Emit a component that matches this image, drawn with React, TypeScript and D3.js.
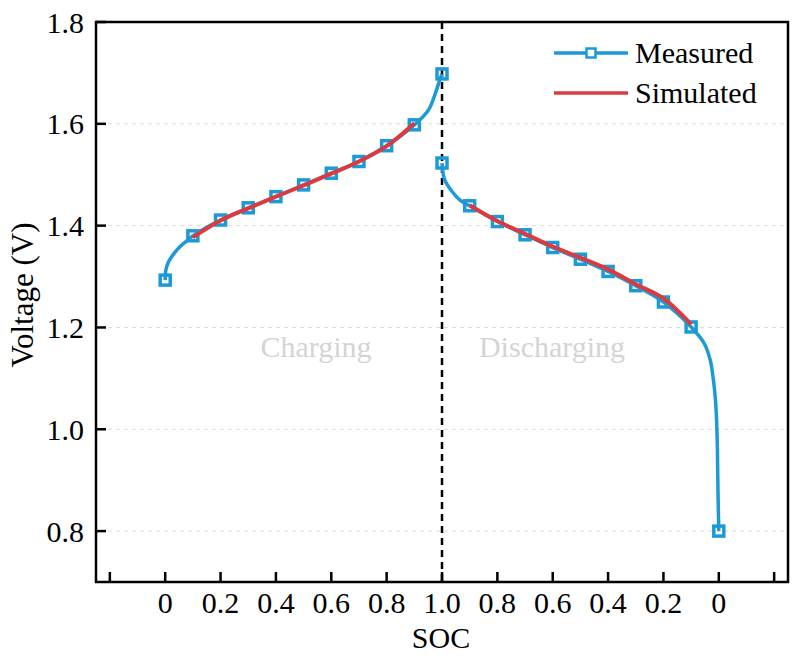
import React from 'react';
import * as d3 from 'd3';

// Measured points (markers) at SOC = 0, 0.1, ..., 1.0
const markerSoc = [0, 0.1, 0.2, 0.3, 0.4, 0.5, 0.6, 0.7, 0.8, 0.9, 1.0];
const chargeMeasured = [1.293, 1.380, 1.411, 1.435, 1.457, 1.480, 1.503, 1.526, 1.557, 1.598, 1.698];
const dischargeMeasured = [0.800, 1.201, 1.250, 1.282, 1.310, 1.334, 1.357, 1.382, 1.408, 1.439, 1.523];

// extra points traced on the measured curve between markers
const chargeBendSoc = [0.0025, 0.012, 0.03, 0.054, 0.078, 0.95, 0.976, 0.993];
const chargeBendV = [1.313, 1.329, 1.344, 1.359, 1.370, 1.626, 1.660, 1.688];
const dischargeBendSoc = [0.003, 0.005, 0.008, 0.013, 0.021, 0.031, 0.053, 0.935, 0.962, 0.99];
const dischargeBendV = [0.880, 0.959, 1.018, 1.064, 1.103, 1.136, 1.169, 1.450, 1.466, 1.490];

// Simulated curves
const simSoc = [0.1, 0.2, 0.3, 0.4, 0.5, 0.6, 0.7, 0.8, 0.9];
const chargeSimulated = [1.377, 1.410, 1.434, 1.457, 1.479, 1.502, 1.526, 1.556, 1.601];
const dischargeSimulated = [1.206, 1.257, 1.285, 1.314, 1.337, 1.359, 1.384, 1.409, 1.440];

// axis ticks (position along the x axis: charging SOC s -> s, discharging SOC s -> 2 - s)
const xTickPos = [-0.2, 0, 0.2, 0.4, 0.6, 0.8, 1.0, 1.2, 1.4, 1.6, 1.8, 2.0, 2.2];
const yTicks = [0.8, 1.0, 1.2, 1.4, 1.6, 1.8];

const BLUE = '#1d9ad6';
const RED = '#dd3a40';
const FONT = '"Liberation Serif", "Times New Roman", serif';

type Pt = [number, number];

const App: React.FC = () => {
    const width = 799;
    const height = 659;
    const left = 96, right = 788, top = 22, bottom = 582;

    const x = d3.scaleLinear().domain([-0.25, 2.25]).range([left, right]);
    const y = d3.scaleLinear().domain([0.7, 1.8]).range([bottom, top]);

    // build point lists
    const chargeLine: Pt[] = markerSoc.map((s, i) => [s, chargeMeasured[i]] as Pt)
        .concat(chargeBendSoc.map((s, i) => [s, chargeBendV[i]] as Pt))
        .sort((a, b) => a[0] - b[0]);
    const dischargeLine: Pt[] = markerSoc.map((s, i) => [2 - s, dischargeMeasured[i]] as Pt)
        .concat(dischargeBendSoc.map((s, i) => [2 - s, dischargeBendV[i]] as Pt))
        .sort((a, b) => a[0] - b[0]);
    const chargeSim: Pt[] = simSoc.map((s, i) => [s, chargeSimulated[i]]);
    const dischargeSim: Pt[] = simSoc.map((s, i) => [2 - s, dischargeSimulated[i]] as Pt)
        .sort((a, b) => a[0] - b[0]);

    const markers: Pt[] = markerSoc.map((s, i) => [s, chargeMeasured[i]] as Pt)
        .concat(markerSoc.map((s, i) => [2 - s, dischargeMeasured[i]] as Pt));

    const smooth = d3.line<Pt>()
        .x(d => x(d[0]))
        .y(d => y(d[1]))
        .curve(d3.curveCatmullRom.alpha(0.5));

    const tickLabel = (p: number) => {
        const v = p <= 1 ? p : 2 - p;
        if (Math.abs(v) < 1e-9) return '0';
        return v.toFixed(1);
    };

    const ms = 10;

    return (
        <svg width={width} height={height}
            style={{ position: 'absolute', left: 0, top: 0, background: '#fff' }}
            fontFamily={FONT}>
            {/* grid */}
            {yTicks.filter(t => t < 1.8).map(t => (
                <line key={'g' + t} x1={left + 12} x2={right} y1={y(t)} y2={y(t)}
                    stroke="#dcdcdc" strokeWidth={1} strokeDasharray="4,4" />
            ))}

            {/* phase labels */}
            <text x={316} y={357} fontSize={30} fill="#d4d4d4" textAnchor="middle">Charging</text>
            <text x={552} y={357} fontSize={30} fill="#d4d4d4" textAnchor="middle">Discharging</text>

            {/* divider */}
            <line x1={x(1)} x2={x(1)} y1={top} y2={bottom} stroke="#000" strokeWidth={2.5}
                strokeDasharray="7,5" />

            {/* measured */}
            <path d={smooth(chargeLine) || ''} fill="none" stroke={BLUE} strokeWidth={3.5} />
            <path d={smooth(dischargeLine) || ''} fill="none" stroke={BLUE} strokeWidth={3.5} />
            {markers.map((d, i) => (
                <rect key={'m' + i} x={x(d[0]) - ms / 2} y={y(d[1]) - ms / 2} width={ms} height={ms}
                    fill="none" stroke={BLUE} strokeWidth={3.5} />
            ))}

            {/* simulated */}
            <path d={smooth(chargeSim) || ''} fill="none" stroke={RED} strokeWidth={4} />
            <path d={smooth(dischargeSim) || ''} fill="none" stroke={RED} strokeWidth={4} />

            {/* frame */}
            <rect x={left} y={top} width={right - left} height={bottom - top}
                fill="none" stroke="#000" strokeWidth={2.5} />

            {/* x ticks */}
            {xTickPos.map(p => (
                <g key={'x' + p}>
                    <line x1={x(p)} x2={x(p)} y1={bottom} y2={bottom - 10} stroke="#000" strokeWidth={2.5} />
                    {p >= 0 && p <= 2 && (
                        <text x={x(p)} y={613} fontSize={30} textAnchor="middle" fill="#000">{tickLabel(p)}</text>
                    )}
                </g>
            ))}

            {/* y ticks */}
            {yTicks.map(t => (
                <g key={'y' + t}>
                    <line x1={left} x2={left + 10} y1={y(t)} y2={y(t)} stroke="#000" strokeWidth={2.5} />
                    <text x={84} y={y(t)} dy="0.35em" fontSize={30} textAnchor="end" fill="#000">{t.toFixed(1)}</text>
                </g>
            ))}

            {/* axis titles */}
            <text x={441} y={648} fontSize={30} textAnchor="middle" fill="#000">SOC</text>
            <text transform={`translate(33,${(top + bottom) / 2 - 7}) rotate(-90)`} fontSize={31}
                textAnchor="middle" fill="#000">Voltage (V)</text>

            {/* legend */}
            <line x1={554} x2={628} y1={53} y2={53} stroke={BLUE} strokeWidth={3.5} />
            <rect x={591 - 4.5} y={53 - 4.5} width={9} height={9} fill="#fff" stroke={BLUE} strokeWidth={2.5} />
            <text x={635} y={63} fontSize={30} fill="#000">Measured</text>
            <line x1={554} x2={628} y1={93} y2={93} stroke={RED} strokeWidth={3.5} />
            <text x={635} y={103} fontSize={30} fill="#000">Simulated</text>
        </svg>
    );
};

export default App;
